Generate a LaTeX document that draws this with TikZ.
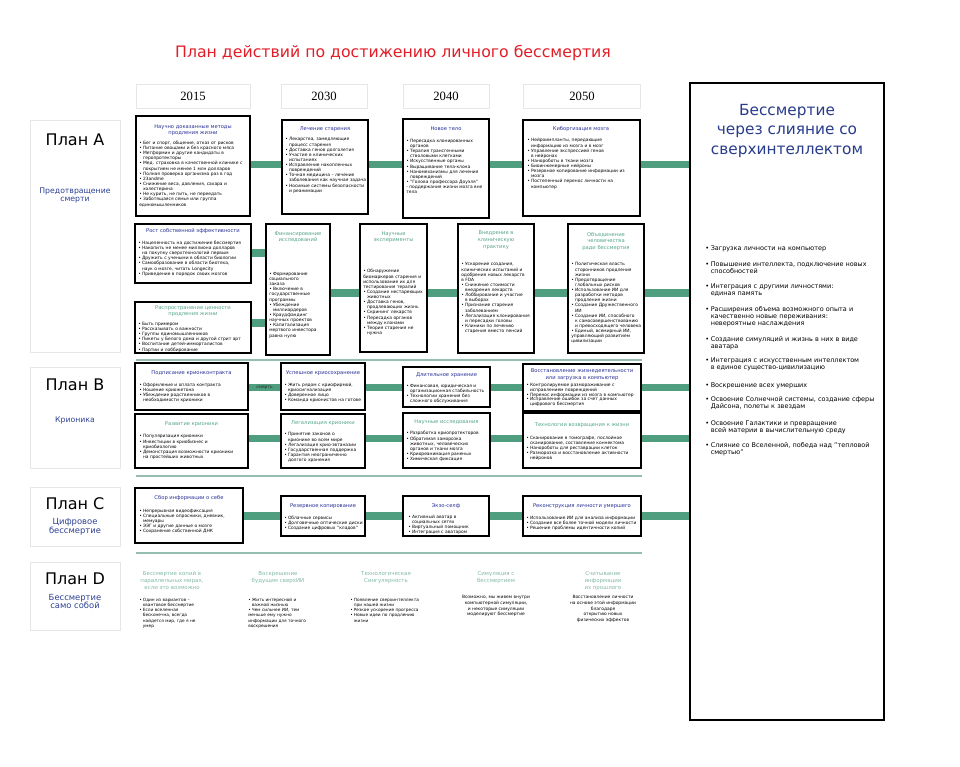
\documentclass[tikz,border=0pt]{standalone}
\usepackage{fontspec}
\setmainfont{DejaVu Sans}
\newfontfamily\yearfont{Liberation Serif}
\usetikzlibrary{calc}
\definecolor{barc}{RGB}{80,158,128}
\definecolor{sepc}{RGB}{150,190,175}
\definecolor{hblue}{RGB}{40,48,150}
\definecolor{hteal}{RGB}{85,165,138}
\definecolor{dteal}{RGB}{130,185,165}
\definecolor{lblue}{RGB}{45,65,150}
\definecolor{tblue}{RGB}{40,60,140}
\definecolor{faint}{RGB}{228,231,231}
\definecolor{titlered}{RGB}{225,30,40}
\newcommand\itm{\par\noindent\hbox to 0.85em{\textbullet\hss}\ignorespaces}
\newcommand\nl{\newline\hspace*{0.85em}}
\newcommand\mkbox[5]{\node[card, minimum width={(#4-#2)*0.75pt}, minimum height={(#5-#3)*0.75pt}] (#1) at ({(#2+#4)/2},{(#3+#5)/2}) {};}
\newcommand\mkfaint[5]{\node[faintbox, minimum width={(#4-#2)*0.75pt}, minimum height={(#5-#3)*0.75pt}] (#1) at ({(#2+#4)/2},{(#3+#5)/2}) {};}
\begin{document}
\begin{tikzpicture}[x=0.75pt,y=-0.75pt,
  card/.style={rectangle, draw=black, line width=1.5pt, fill=white, inner sep=0pt},
  faintbox/.style={rectangle, draw=faint, line width=0.7pt, inner sep=0pt},
  gbar/.style={draw=barc, line width=5.4pt},
  sepline/.style={draw=sepc, line width=0.8pt},
  hd/.style={inner sep=0pt, align=center, font=\fontsize{3.9}{5.0}\selectfont, text=#1},
  hd/.default=hblue,
  lst/.style={anchor=north west, inner sep=0pt, align=left, text width=#1, font=\fontsize{3.3}{3.85}\selectfont},
  rl/.style={anchor=north west, inner sep=0pt, align=left, text width=134pt, font=\fontsize{4.85}{5.55}\selectfont},
  plan/.style={inner sep=0pt, font=\fontsize{12}{14}\selectfont},
  sub/.style={inner sep=0pt, align=center, text=lblue, font=\fontsize{#1}{6.7}\selectfont},
  dtitle/.style={inner sep=0pt, align=center, text=dteal, font=\fontsize{4.1}{5.0}\selectfont},
  dl/.style={anchor=north west, inner sep=0pt, align=left, text width=75pt, font=\fontsize{3.2}{3.95}\selectfont},
  dc/.style={inner sep=0pt, align=center, font=\fontsize{3.3}{4.3}\selectfont},
 ]
\fill[white] (0,0) rectangle (960,767);
\path[use as bounding box] (0,0) rectangle (960,767);

% title
\node[inner sep=0pt, text=titlered, font=\fontsize{11.8}{14}\selectfont] (title) at (393,53) {План действий по достижению личного бессмертия};

% year boxes
\node[faintbox, minimum width={114*0.75pt}, minimum height={24*0.75pt}, font=\yearfont\fontsize{9.5}{11}\selectfont] (Y1) at (193,96) {2015};
\node[faintbox, minimum width={86*0.75pt}, minimum height={24*0.75pt}, font=\yearfont\fontsize{9.5}{11}\selectfont] (Y2) at (324,96) {2030};
\node[faintbox, minimum width={86*0.75pt}, minimum height={24*0.75pt}, font=\yearfont\fontsize{9.5}{11}\selectfont] (Y3) at (446,96) {2040};
\node[faintbox, minimum width={117*0.75pt}, minimum height={24*0.75pt}, font=\yearfont\fontsize{9.5}{11}\selectfont] (Y4) at (582,96) {2050};

% left label boxes
\mkfaint{LA}{30}{120}{120}{352}
\mkfaint{LB}{30}{367}{120}{468}
\mkfaint{LC}{30}{487}{120}{546}
\mkfaint{LD}{30}{562}{120}{630}
\node[plan] (pA) at (75,140) {План А};
\node[sub=5.8] (pAs) at (75,195.5) {Предотвращение\\смерти};
\node[plan] (pB) at (75,385) {План В};
\node[sub=5.8] (pBs) at (75,420) {Крионика};
\node[plan] (pC) at (75,504) {План С};
\node[sub=6.3] (pCs) at (75,526.5) {Цифровое\\бессмертие};
\node[plan] (pD) at (75,579) {План D};
\node[sub=6.3] (pDs) at (75,601.5) {Бессмертие\\само собой};

% separators
\draw[sepline] (136,360) -- (642,360);
\draw[sepline] (136,476) -- (642,476);
\draw[sepline] (136,553) -- (642,553);

% right box
\node[rectangle, draw=black, line width=0.9pt, fill=white, inner sep=0pt, minimum width={194*0.75pt}, minimum height={637*0.75pt}] (R) at (787,401.5) {};
\node[inner sep=0pt, align=center, text=tblue, font=\fontsize{11.5}{14.3}\selectfont] (Rt) at (787,131) {Бессмертие\\через слияние со\\сверхинтеллектом};
\node[rl] (r1) at (705,242.5) {\itm Загрузка личности на компьютер};
\node[rl] (r2) at (705,258.5) {\itm Повышение интеллекта, подключение новых\nl способностей};
\node[rl] (r3) at (705,280.8) {\itm Интеграция с другими личностями:\nl единая память};
\node[rl] (r4) at (705,303.5) {\itm Расширения объема возможного опыта и\nl качественно новые переживания:\nl невероятные наслаждения};
\node[rl] (r5) at (705,333.5) {\itm Создание симуляций и жизнь в них в виде\nl аватара};
\node[rl] (r6) at (705,354.8) {\itm Интеграция с искусственным интеллектом\nl в единое существо-цивилизацию};
\node[rl] (r7) at (705,379.5) {\itm Воскрешение всех умерших};
\node[rl] (r8) at (705,393.5) {\itm Освоение Солнечной системы, создание сферы\nl Дайсона, полеты к звездам};
\node[rl] (r9) at (705,417.5) {\itm Освоение Галактики и превращение\nl всей материи в вычислительную среду};
\node[rl] (r10) at (705,439.5) {\itm Слияние со Вселенной, победа над "тепловой\nl смертью"};

% ---------- Plan A boxes ----------
\mkbox{A1}{136}{116}{250}{216}
\mkbox{A2}{282}{120}{368}{214}
\mkbox{A3}{403}{119}{489}{218}
\mkbox{A4}{523}{120}{640}{216}
\mkbox{R1}{135}{224}{251}{283}
\mkbox{R2}{135}{302}{251}{353}
\mkbox{F}{266}{224}{330}{355}
\mkbox{N}{360}{224}{427}{352}
\mkbox{V}{458}{224}{534}{353}
\mkbox{O}{568}{224}{644}{353}
% ---------- Plan B boxes ----------
\mkbox{B1}{135}{363}{248}{410}
\mkbox{B2}{281}{363}{365}{410}
\mkbox{B3}{135}{414}{248}{468}
\mkbox{B4}{281}{414}{365}{468}
\mkbox{B5}{403}{367}{490}{407}
\mkbox{B6}{523}{364}{641}{411}
\mkbox{B7}{403}{413}{490}{468}
\mkbox{B8}{523}{413}{641}{468}
% ---------- Plan C boxes ----------
\mkbox{C1}{135}{488}{243}{543}
\mkbox{C2}{281}{496}{365}{536}
\mkbox{C3}{403}{496}{489}{536}
\mkbox{C4}{523}{496}{641}{536}

% bar levels
\coordinate (yA) at (0,164.5);
\coordinate (yB1) at (0,253);
\coordinate (yB2) at (0,323);
\coordinate (yB3) at (0,293);
\coordinate (yP1) at (0,387.5);
\coordinate (yP2) at (0,438.5);
\coordinate (yC) at (0,516);

\draw[gbar] (A1.east |- yA) -- (A2.west |- yA);
\draw[gbar] (A2.east |- yA) -- (A3.west |- yA);
\draw[gbar] (A3.east |- yA) -- (A4.west |- yA);
\draw[gbar] (A4.east |- yA) -- (R.west |- yA);
\draw[gbar] (R1.east |- yB1) -- (F.west |- yB1);
\draw[gbar] (R2.east |- yB2) -- (F.west |- yB2);
\draw[gbar] (F.east |- yB3) -- (N.west |- yB3);
\draw[gbar] (N.east |- yB3) -- (V.west |- yB3);
\draw[gbar] (V.east |- yB3) -- (O.west |- yB3);
\draw[gbar] (O.east |- yB3) -- (R.west |- yB3);
\draw[gbar] (B1.east |- yP1) -- (B2.west |- yP1);
\draw[gbar] (B2.east |- yP1) -- (B5.west |- yP1);
\draw[gbar] (B5.east |- yP1) -- (B6.west |- yP1);
\draw[gbar] (B6.east |- yP1) -- (R.west |- yP1);
\draw[gbar] (B3.east |- yP2) -- (B4.west |- yP2);
\draw[gbar] (B4.east |- yP2) -- (B7.west |- yP2);
\draw[gbar] (B7.east |- yP2) -- (B8.west |- yP2);
\draw[gbar] (B8.east |- yP2) -- (R.west |- yP2);
\draw[gbar] (C1.east |- yC) -- (C2.west |- yC);
\draw[gbar] (C2.east |- yC) -- (C3.west |- yC);
\draw[gbar] (C3.east |- yC) -- (C4.west |- yC);
\draw[gbar] (C4.east |- yC) -- (R.west |- yC);
\node[inner sep=0pt, text=black!85, font=\fontsize{3.3}{4}\selectfont] (death) at (264.5,387.5) {смерть};

% ---------- Plan A texts ----------
\node[hd] (A1h) at (193,130) {Научно доказанные методы\\продления жизни};
\node[lst=82pt] (A1l) at (139,139) {\itm Бег и спорт, общение, отказ от рисков
\itm Питание овощами и без красного мяса
\itm Метформин и другие кандидаты в\nl геропротекторы
\itm Мед. страховка в качественной клинике с\nl покрытием не менее 1 млн долларов
\itm Полная проверка организма раз в год
\itm 23andme
\itm Снижение веса, давления, сахара и\nl холестерина
\itm Не курить, не пить, не переедать
\itm Заботящаяся семья или группа\newline единомышленников};

\node[hd] (A2h) at (325,129) {Лечение старения};
\node[lst=62pt] (A2l) at (285,135.5) {\itm Лекарства, замедляющие\nl процесс старения
\itm Доставка генов долголетия
\itm Участие в клинических\nl испытаниях
\itm Исправление накопленных\nl повреждений
\itm Точная медицина – лечение\nl заболевания как научная задача
\itm Носимые системы безопасности\nl и реанимации};

\node[hd] (A3h) at (446,128.5) {Новое тело};
\node[lst=62pt] (A3l) at (406,137) {\itm Пересадка клонированных\nl органов
\itm Терапия трансгенными\nl стволовыми клетками
\itm Искусственные органы
\itm Выращивание тела-клона
\itm Наномеханизмы для лечения\nl повреждений
\itm "Голова профессора Доуэля"
\par\noindent - поддержания жизни мозга вне\newline тела};

\node[hd] (A4h) at (581,129.5) {Киборгизация мозга};
\node[lst=85pt] (A4l) at (527,136.5) {\itm Нейроимпланты, передающие\nl информацию из мозга и в мозг
\itm Управление экспрессией генов\nl в нейронах
\itm Нанороботы в ткани мозга
\itm Биоинженерные нейроны
\itm Резервное копирование информации из\nl мозга
\itm Постепенный перенос личности на\nl компьютер};

\node[hd] (R1h) at (193,231.5) {Рост собственной эффективности};
\node[lst=84pt] (R1l) at (138,239) {\itm Нацеленность на достижение бессмертия
\itm Накопить не менее миллиона долларов\nl на покупку сверхтехнологий первым
\itm Дружить с учеными в области биологии
\itm Самообразование в области биотеха,\nl наук о мозге, читать Longecity
\itm Приведение в порядок своих мозгов};

\node[hd=hteal] (R2h) at (193,311) {Распространение ценности\\продления жизни};
\node[lst=84pt] (R2l) at (138,320) {\itm Быть примером
\itm Рассказывать о важности
\itm Группы единомышленников
\itm Пикеты у Белого дома и другой стрит арт
\itm Воспитание детей-имморталистов
\itm Партии и лоббирование};

\node[hd=hteal] (Fh) at (298,237) {Финансирование\\исследований};
\node[lst=46pt] (Fl) at (269,270) {\itm Формирование\newline социального\newline заказа
\itm Включение в\newline государственные\newline программы
\itm Убеждение\nl миллиардеров
\itm Краудфандинг\newline научных проектов
\itm Капитализация\newline мертвого инвестора\newline равна нулю};

\node[hd=hteal] (Nh) at (393.5,237) {Научные\\эксперименты};
\node[lst=48pt] (Nl) at (363,267.5) {\itm Обнаружение\newline биомаркеров старения и\newline использование их для\newline тестирования терапий
\itm Создание нестареющих\nl животных
\itm Доставка генов,\nl продлевающих жизнь
\itm Скрининг лекарств
\itm Пересадка органов\nl между клонами
\itm Теория старения не\nl нужна};

\node[hd=hteal] (Vh) at (496,240) {Внедрение в\\клиническую\\практику};
\node[lst=55pt] (Vl) at (461,260.5) {\itm Ускорение создания,\newline клинических испытаний и\newline одобрения новых лекарств\newline в FDA
\itm Снижение стоимости\nl внедрения лекарств
\itm Лоббирование и участие\nl в выборах
\itm Признание старения\nl заболеванием
\itm Легализация клонирования\nl и пересадки головы
\itm Клиники по лечению\nl старения вместо пенсий};

\node[hd=hteal] (Oh) at (606,241.5) {Объединение\\человечества\\ради бессмертия};
\node[lst=55pt] (Ol) at (571,260.5) {\itm Политическая власть\nl сторонников продления\nl жизни
\itm Предотвращение\nl глобальных рисков
\itm Использование ИИ для\nl разработки методов\nl продления жизни
\itm Создание Дружественного\nl ИИ
\itm Создание ИИ, способного\nl к самосовершенствованию\nl и превосходящего человека
\itm Единый, всемирный ИИ,\newline управляющий развитием\newline цивилизации};

% ---------- Plan B texts ----------
\node[hd] (B1h) at (191.5,373) {Подписание крионконтракта};
\node[lst=82pt] (B1l) at (139,381) {\itm Оформление и оплата контракта
\itm Ношение криожетона
\itm Убеждение родственников в\nl необходимости крионики};

\node[hd] (B2h) at (323,373) {Успешное криосохранение};
\node[lst=62pt] (B2l) at (284,381) {\itm Жить рядом с криофирмой,\nl криосигнализация
\itm Доверенное лицо
\itm Команда крионистов на готове};

\node[hd=hteal] (B3h) at (191.5,424.5) {Развитие крионики};
\node[lst=82pt] (B3l) at (139,432.5) {\itm Популяризация крионики
\itm Инвестиции в криобизнес и\nl криобиологию
\itm Демонстрация возможности крионики\nl на простейших животных};

\node[hd=hteal] (B4h) at (323,423) {Легализация крионики};
\node[lst=62pt] (B4l) at (284,430.5) {\itm Принятие законов о\nl крионике во всем мире
\itm Легализация крио-эвтаназии
\itm Государственная поддержка
\itm Гарантия неограниченно\nl долгого хранения};

\node[hd] (B5h) at (446.5,375) {Длительное хранение};
\node[lst=64pt] (B5l) at (406,382) {\itm Финансовая, юридическая и\nl организационная стабильность
\itm Технологии хранения без\nl сложного обслуживания};

\node[hd] (B6h) at (582,374.5) {Восстановление жизнедеятельности\\или загрузка в компьютер};
\node[lst=87pt, font=\fontsize{3.3}{3.6}\selectfont] (B6l) at (526,381.5) {\itm Контролируемое размораживание с\nl исправлением повреждений
\itm Перенос информации из мозга в компьютер
\itm Исправление ошибок за счет данных\nl цифрового бессмертия};

\node[hd=hteal] (B7h) at (446.5,422) {Научные исследования};
\node[lst=64pt] (B7l) at (406,429.5) {\itm Разработка криопротекторов
\itm Обратимая заморозка\nl животных, человеческих\nl органов и ткани мозга
\itm Криореанимация раненых
\itm Химическая фиксация};

\node[hd=hteal] (B8h) at (582,425) {Технологии возвращения к жизни};
\node[lst=87pt] (B8l) at (526,434) {\itm Сканирование в томографе, послойное\nl сканирование, составление коннектома
\itm Нанороботы для реставрации клеток
\itm Разморозка и восстановление активности\nl нейронов};

% ---------- Plan C texts ----------
\node[hd] (C1h) at (189,498) {Сбор информации о себе};
\node[lst=80pt] (C1l) at (139,507) {\itm Непрерывная видеофиксация
\itm Специальные опросники, дневник,\nl мемуары
\itm ЭЭГ и другие данные о мозге
\itm Сохранение собственной ДНК};

\node[hd] (C2h) at (323,506) {Резервное копирование};
\node[lst=62pt] (C2l) at (284,514) {\itm Облачные сервисы
\itm Долговечные оптические диски
\itm Создание цифровых "кладов"};

\node[hd] (C3h) at (446,506) {Экзо-селф};
\node[lst=62pt] (C3l) at (408,513) {\itm Активный аватар в\nl социальных сетях
\itm Виртуальный помощник
\itm Интеграция с аватаром};

\node[hd] (C4h) at (582,506) {Реконструкция личности умершего};
\node[lst=87pt] (C4l) at (526,514) {\itm Использование ИИ для анализа информации
\itm Создание все более точной модели личности
\itm Решение проблемы идентичности копий};

% ---------- Plan D texts ----------
\node[dtitle] (D1t) at (172,580.5) {Бессмертие копий в\\параллельных мирах,\\если это возможно};
\node[dl] (D1l) at (139,595.5) {\itm Один из вариантов –\nl квантовое бессмертие
\itm Если вселенная\nl бесконечна, всегда\nl найдется мир, где я не\nl умер};
\node[dtitle] (D2t) at (278,577.5) {Воскрешение\\будущим сверхИИ};
\node[dl] (D2l) at (248,595.5) {\itm Жить интересной и\nl важной жизнью
\itm Чем сильнее ИИ, тем\newline меньше ему нужно\newline информации для точного\newline воскрешения};
\node[dtitle] (D3t) at (386,577.5) {Технологическая\\Сингулярность};
\node[dl] (D3l) at (350,595.5) {\itm Появление сверхинтеллекта\nl при нашей жизни
\itm Резкое ускорение прогресса
\itm Новые идеи по продлению\nl жизни};
\node[dtitle] (D4t) at (496,577.5) {Симуляция с\\бессмертием};
\node[dc] (D4l) at (496,606) {Возможно, мы живем внутри\\компьютерной симуляции,\\и некоторые симуляции\\моделируют бессмертие};
\node[dtitle] (D5t) at (603,581) {Считывание\\информации\\из прошлого};
\node[dc] (D5l) at (603,609) {Восстановление личности\\на основе этой информации\\благодаря\\открытию новых\\физических эффектов};
\end{tikzpicture}
\end{document}
